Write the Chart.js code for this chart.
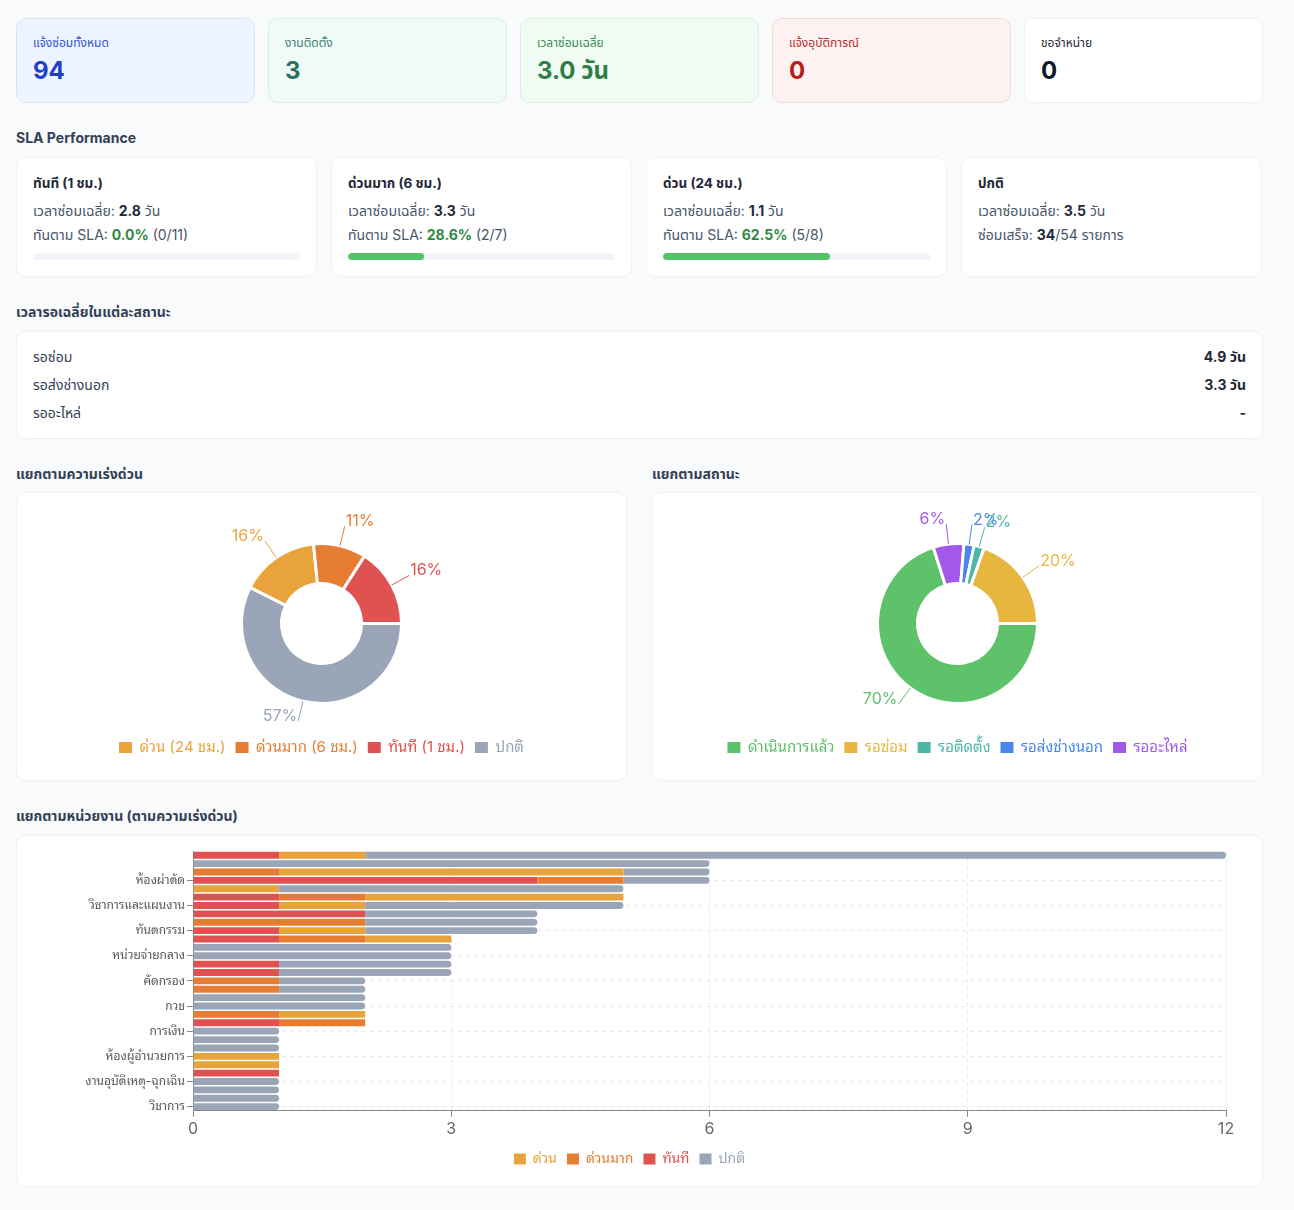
<!DOCTYPE html>
<html lang="th">
<head>
<meta charset="utf-8">
<script src="https://cdn.jsdelivr.net/npm/chart.js"></script>
<style>
  body { margin:0; background:#f8fafc; font-family: Inter, "Noto Sans Thai", "Noto Sans", sans-serif; color:#1f2937; }
  .wrap { padding:18px 0 0 16px; width:1247px; }
  .kpis { display:flex; gap:13px; }
  .kpi { box-sizing:border-box; width:239px; height:85px; border:1px solid #eef1f5; border-radius:10px; padding:16px 16px 0; background:#fff; }
  .kpi .l { font-size:12px; line-height:16px; }
  .kpi .v { font-size:24px; font-weight:700; line-height:30px; margin-top:5px; }
  .k1 { background:#eef4ff; border-color:#d9e4fb; } .k1 .l { color:#2f55d4; } .k1 .v { color:#1e40c8; }
  .k2 { background:#f0fbf8; border-color:#d5f1ea; } .k2 .l { color:#3f7f70; } .k2 .v { color:#2b7062; }
  .k3 { background:#f0fbf3; border-color:#d7f2de; } .k3 .l { color:#3c8a55; } .k3 .v { color:#2f7d47; }
  .k4 { background:#fdf2f2; border-color:#f7d6d6; } .k4 .l { color:#b8322f; } .k4 .v { color:#b3201c; }
  .k5 .l { color:#1f2937; } .k5 .v { color:#111827; }
  h3 { font-size:14px; font-weight:700; line-height:20px; margin:25px 0 9px; color:#334155; }
  .sla { display:flex; gap:14px; }
  .slac { box-sizing:border-box; width:301px; height:120px; background:#fff; border:1px solid #eef1f5; border-radius:10px; padding:15px 16px 0; font-size:14px; color:#475569; }
  .slac .t { font-weight:700; line-height:20px; color:#1f2937; font-size:13.5px; }
  .slac .r { line-height:20px; }
  .slac .r2 { margin-top:8px; } .slac .r3 { margin-top:4px; }
  .slac b { color:#1f2937; }
  .slac b.g { color:#2f8a43; }
  .bar { margin-top:8px; height:7px; background:#f1f5f9; border-radius:4px; overflow:hidden; }
  .bar div { height:100%; background:#52c468; border-radius:4px; }
  .wcard { box-sizing:border-box; height:108px; background:#fff; border:1px solid #eef1f5; border-radius:10px; padding:15px 16px 0; font-size:14px; color:#334155; }
  .wrow { display:flex; justify-content:space-between; line-height:20px; }
  .wrow + .wrow { margin-top:8px; }
  .wrow b { color:#1f2937; }
  .cols { display:flex; gap:25px; }
  .col { width:611px; }
  .col h3 { margin-bottom:8px; }
  .ccard { box-sizing:border-box; width:611px; height:289px; background:#fff; border:1px solid #eef1f5; border-radius:10px; padding:16px 16px 14px; }
  .ccard .cv { position:relative; width:577px; height:257px; }
  .bcard { box-sizing:border-box; width:1247px; height:352px; background:#fff; border:1px solid #eef1f5; border-radius:10px; padding:15px 16px 10px; }
  .bcard .cv { position:relative; width:1213px; height:325px; }
</style>
</head>
<body>
<div class="wrap">
  <div class="kpis">
    <div class="kpi k1"><div class="l">แจ้งซ่อมทั้งหมด</div><div class="v">94</div></div>
    <div class="kpi k2"><div class="l">งานติดตั้ง</div><div class="v">3</div></div>
    <div class="kpi k3"><div class="l">เวลาซ่อมเฉลี่ย</div><div class="v">3.0 วัน</div></div>
    <div class="kpi k4"><div class="l">แจ้งอุบัติการณ์</div><div class="v">0</div></div>
    <div class="kpi k5"><div class="l">ขอจำหน่าย</div><div class="v">0</div></div>
  </div>

  <h3>SLA Performance</h3>
  <div class="sla">
    <div class="slac"><div class="t">ทันที (1 ชม.)</div>
      <div class="r r2">เวลาซ่อมเฉลี่ย: <b>2.8</b> วัน</div>
      <div class="r r3">ทันตาม SLA: <b class="g">0.0%</b> (0/11)</div>
      <div class="bar"><div style="width:0%"></div></div></div>
    <div class="slac"><div class="t">ด่วนมาก (6 ชม.)</div>
      <div class="r r2">เวลาซ่อมเฉลี่ย: <b>3.3</b> วัน</div>
      <div class="r r3">ทันตาม SLA: <b class="g">28.6%</b> (2/7)</div>
      <div class="bar"><div style="width:28.6%"></div></div></div>
    <div class="slac"><div class="t">ด่วน (24 ชม.)</div>
      <div class="r r2">เวลาซ่อมเฉลี่ย: <b>1.1</b> วัน</div>
      <div class="r r3">ทันตาม SLA: <b class="g">62.5%</b> (5/8)</div>
      <div class="bar"><div style="width:62.5%"></div></div></div>
    <div class="slac"><div class="t">ปกติ</div>
      <div class="r r2">เวลาซ่อมเฉลี่ย: <b>3.5</b> วัน</div>
      <div class="r r3">ซ่อมเสร็จ: <b>34</b>/54 รายการ</div></div>
  </div>

  <h3>เวลารอเฉลี่ยในแต่ละสถานะ</h3>
  <div class="wcard">
    <div class="wrow"><span>รอซ่อม</span><b>4.9 วัน</b></div>
    <div class="wrow"><span>รอส่งช่างนอก</span><b>3.3 วัน</b></div>
    <div class="wrow"><span>รออะไหล่</span><b>-</b></div>
  </div>

  <div class="cols">
    <div class="col"><h3>แยกตามความเร่งด่วน</h3><div class="ccard"><div class="cv"><canvas id="c1"></canvas></div></div></div>
    <div class="col"><h3>แยกตามสถานะ</h3><div class="ccard"><div class="cv"><canvas id="c2"></canvas></div></div></div>
  </div>

  <h3>แยกตามหน่วยงาน (ตามความเร่งด่วน)</h3>
  <div class="bcard"><div class="cv"><canvas id="c3"></canvas></div></div>
</div>

<script>
// ---------- data ----------
const urgencyLabels = ['ปกติ', 'ด่วน (24 ชม.)', 'ด่วนมาก (6 ชม.)', 'ทันที (1 ชม.)'];
const urgencyCounts = [54, 15, 10, 15];
const urgencyColors = ['#9aa5b8', '#e9a33b', '#e67d33', '#e05252'];
const urgencyLegendOrder = ['ด่วน (24 ชม.)', 'ด่วนมาก (6 ชม.)', 'ทันที (1 ชม.)', 'ปกติ'];

const statusLabels = ['ดำเนินการแล้ว', 'รออะไหล่', 'รอส่งช่างนอก', 'รอติดตั้ง', 'รอซ่อม'];
const statusCounts = [68, 6, 2, 2, 19];
const statusColors = ['#5ec26a', '#a259ea', '#4a86e8', '#4db6a5', '#e6b63f'];
const statusLegendOrder = ['ดำเนินการแล้ว', 'รอซ่อม', 'รอติดตั้ง', 'รอส่งช่างนอก', 'รออะไหล่'];

const departments = [
  'ผู้ป่วยใน', 'ผู้ป่วยนอก', 'ห้องคลอด', 'ห้องผ่าตัด', 'เภสัชกรรม', 'ห้องปฏิบัติการ',
  'วิชาการและแผนงาน', 'รังสีวิทยา', 'กายภาพบำบัด', 'ทันตกรรม', 'แพทย์แผนไทย', 'เวชระเบียน',
  'หน่วยจ่ายกลาง', 'โภชนาการ', 'ซักฟอก', 'คัดกรอง', 'ยานพาหนะ', 'พัสดุ',
  'กวช', 'ธุรการ', 'ประกันสุขภาพ', 'การเงิน', 'สุขภาพจิต', 'ศูนย์คุณภาพ',
  'ห้องผู้อำนวยการ', 'เวชปฏิบัติครอบครัว', 'ไตเทียม', 'งานอุบัติเหตุ-ฉุกเฉิน', 'ทรัพยากรบุคคล', 'อาคารสถานที่',
  'วิชาการ'
];
const deptImmediate  = [1,0,0,4,0,1,1,2,0,1,1,0,0,1,1,0,0,0,0,0,1,0,0,0,0,0,1,0,0,0,0];
const deptVeryUrgent = [0,0,1,1,0,1,0,0,2,0,1,0,0,0,0,1,1,0,0,1,1,0,0,0,0,0,0,0,0,0,0];
const deptUrgent     = [1,0,4,0,1,3,1,0,0,1,1,0,0,0,0,0,0,0,0,1,0,0,0,0,1,1,0,0,0,0,0];
const deptNormal     = [10,6,1,1,4,0,3,2,2,2,0,3,3,2,2,1,1,2,2,0,0,1,1,1,0,0,0,1,1,1,1];
const xTicks = [0, 3, 6, 9, 12];

// ---------- charts ----------
const canvasFont = 'Inter, "Noto Sans Thai Looped", "Noto Looped Thai", Loma, Garuda, Waree, "Noto Sans Thai", sans-serif';
Chart.defaults.animation = false;
Chart.defaults.font.family = canvasFont;

const outLabels = {
  id: 'outLabels',
  afterDatasetsDraw(chart) {
    const ds = chart.data.datasets[0];
    const meta = chart.getDatasetMeta(0);
    const total = ds.data.reduce((a, b) => a + b, 0);
    const ctx = chart.ctx;
    ctx.save();
    meta.data.forEach((arc, i) => {
      const p = arc.getProps(['x', 'y', 'startAngle', 'endAngle', 'outerRadius'], true);
      const mid = (p.startAngle + p.endAngle) / 2;
      const c = Math.cos(mid), s = Math.sin(mid);
      const x1 = p.x + c * p.outerRadius, y1 = p.y + s * p.outerRadius;
      const x2 = p.x + c * (p.outerRadius + 20), y2 = p.y + s * (p.outerRadius + 20);
      const col = ds.backgroundColor[i];
      ctx.strokeStyle = col; ctx.lineWidth = 1;
      ctx.beginPath(); ctx.moveTo(x1, y1); ctx.lineTo(x2, y2); ctx.stroke();
      ctx.fillStyle = col;
      ctx.font = '16px ' + canvasFont;
      ctx.textAlign = c >= 0 ? 'left' : 'right';
      ctx.textBaseline = 'alphabetic';
      ctx.fillText(Math.round(ds.data[i] / total * 100) + '%', x2 + (c >= 0 ? 1 : -1), y2);
    });
    ctx.restore();
  }
};

function coloredLegend(base) {
  return function (chart) {
    return base(chart).map(it => Object.assign(it, { fontColor: it.fillStyle, strokeStyle: it.fillStyle, lineWidth: 0 }));
  };
}

function doughnut(id, labels, data, colors, order) {
  new Chart(document.getElementById(id), {
    type: 'doughnut',
    data: { labels, datasets: [{ data, backgroundColor: colors, borderColor: '#fff', borderWidth: 3 }] },
    options: {
      responsive: true, maintainAspectRatio: false,
      rotation: 90, cutout: '50%', radius: 80,
      layout: { padding: { top: 8, bottom: 1 } },
      plugins: {
        tooltip: { enabled: false },
        legend: {
          position: 'bottom',
          labels: {
            boxWidth: 13, boxHeight: 11, font: { size: 15 }, padding: 10,
            generateLabels: coloredLegend(Chart.overrides.doughnut.plugins.legend.labels.generateLabels),
            sort: (a, b) => order.indexOf(a.text) - order.indexOf(b.text)
          }
        }
      }
    },
    plugins: [outLabels]
  });
}
doughnut('c1', urgencyLabels, urgencyCounts, urgencyColors, urgencyLegendOrder);
doughnut('c2', statusLabels, statusCounts, statusColors, statusLegendOrder);

const shownRow = i => i % 3 === 0 && i > 0;
const barLegendOrder = ['ด่วน', 'ด่วนมาก', 'ทันที', 'ปกติ'];
new Chart(document.getElementById('c3'), {
  type: 'bar',
  data: {
    labels: departments,
    datasets: [
      { label: 'ทันที', data: deptImmediate, backgroundColor: '#e05252' },
      { label: 'ด่วนมาก', data: deptVeryUrgent, backgroundColor: '#e67d33' },
      { label: 'ด่วน', data: deptUrgent, backgroundColor: '#e9a33b' },
      { label: 'ปกติ', data: deptNormal, backgroundColor: '#9aa5b8', borderRadius: 4, borderSkipped: 'start' }
    ]
  },
  options: {
    indexAxis: 'y',
    responsive: true, maintainAspectRatio: false,
    datasets: { bar: { barPercentage: 0.82, categoryPercentage: 1 } },
    layout: { padding: { top: 0, right: 20, left: 0, bottom: 0 } },
    scales: {
      x: {
        stacked: true, min: xTicks[0], max: xTicks[xTicks.length - 1],
        afterBuildTicks: s => { s.ticks = xTicks.map(v => ({ value: v })); },
        ticks: { color: '#666', font: { size: 16 }, padding: 3 },
        grid: { color: 'rgba(0,0,0,0.08)', tickLength: 6, tickColor: '#888' },
        border: { color: '#888', dash: [4, 4] },
        afterFit: s => { s.paddingLeft = 0; s.paddingRight = 0; }
      },
      y: {
        stacked: true,
        ticks: {
          autoSkip: false, color: '#555', font: { size: 12 }, padding: 2,
          callback: function (v, i) { return shownRow(i) ? this.getLabelForValue(v) : ''; }
        },
        grid: {
          offset: false, tickLength: 6,
          color: c => shownRow(c.index) ? 'rgba(0,0,0,0.08)' : 'rgba(0,0,0,0)',
          tickColor: c => shownRow(c.index) ? '#888' : 'rgba(0,0,0,0)'
        },
        border: { color: '#888', dash: [4, 4] },
        afterFit: s => { s.width = 160; s.paddingTop = 0; s.paddingBottom = 0; }
      }
    },
    plugins: {
      tooltip: { enabled: false },
      legend: {
        position: 'bottom',
        labels: {
          boxWidth: 12, boxHeight: 11, font: { size: 14 }, padding: 10,
          generateLabels: coloredLegend(Chart.defaults.plugins.legend.labels.generateLabels),
          sort: (a, b) => barLegendOrder.indexOf(a.text) - barLegendOrder.indexOf(b.text)
        }
      }
    }
  }
});
</script>
</body>
</html>
